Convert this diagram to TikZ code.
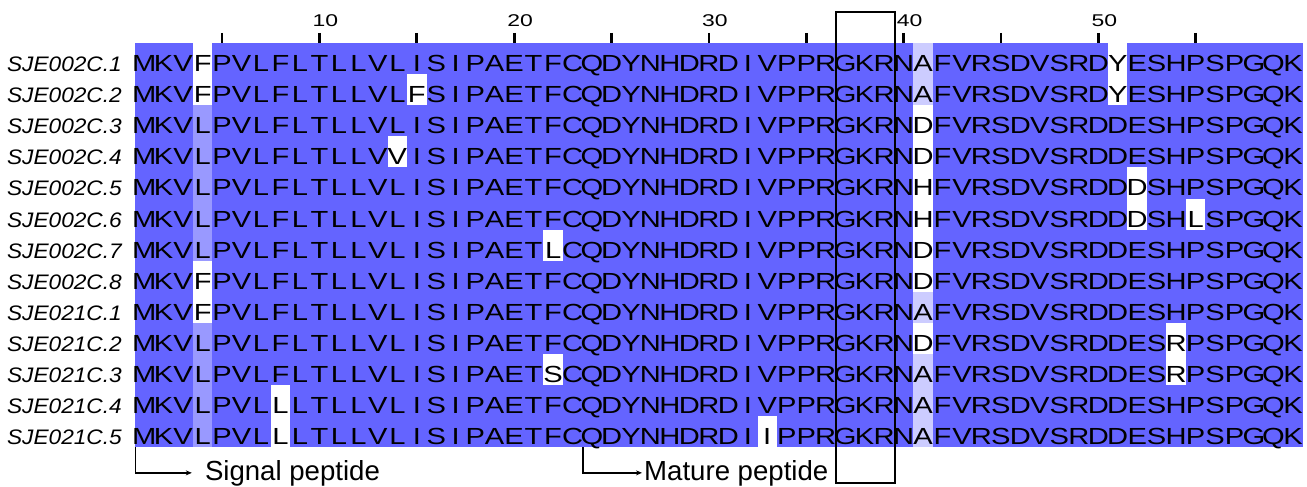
\documentclass[tikz,border=0pt]{standalone}
\usepackage{fontspec}
\setmainfont{Liberation Sans}
\newfontfamily\resfont[FakeStretch=1.25]{Liberation Sans}
\newfontfamily\namefont[FakeStretch=1.08]{Liberation Sans}
\newfontfamily\numfont[FakeStretch=1.35]{Liberation Sans}
\usetikzlibrary{arrows.meta}

\definecolor{idhigh}{RGB}{100,100,255}
\definecolor{idmid}{RGB}{153,153,255}
\definecolor{idlow}{RGB}{204,204,255}

% one alignment cell: column, row, colour
\newcommand\cellfill[3]{\fill[#3] ({134.5+(#1-1)*19.47},{43+(#2-1)*31.1}) rectangle ++(19.47,31.1);}

% one row of residues, one node per letter
\makeatletter
\newcount\rescol
\newcommand\seqrow[2]{\rescol=0 \edef\resrow{#1}\expandafter\seqrow@#2\@nil}
\def\seqrow@#1{%
  \ifx#1\@nil\else
    \advance\rescol by 1
    \node[res] (r\resrow-\the\rescol) at ({134.5+(\the\rescol-0.5)*19.47},{43+(\resrow-1)*31.1+28.5}) {#1};%
    \expandafter\seqrow@
  \fi}
\makeatother

\tikzset{
  res/.style={font=\resfont\fontsize{23.3}{28}\selectfont, anchor=base, inner sep=0pt},
  seqname/.style={font=\namefont\itshape\fontsize{21}{25}\selectfont, anchor=base east, inner sep=0pt},
  num/.style={font=\numfont\fontsize{17}{20}\selectfont, anchor=base, inner sep=0pt},
  note/.style={font=\fontsize{27.6}{32}\selectfont, anchor=base west, inner xsep=2pt, inner ysep=0pt},
  tick/.style={line width=2.7pt},
  pointer/.style={line width=1.4pt, -{Stealth[length=6pt,width=5pt]}}
}

\begin{document}
\begin{tikzpicture}[x=1pt, y=-1pt]
    \useasboundingbox (0,0) rectangle (1307,487);

    % Fondo de identidad
    \fill[idhigh] (134.5,43) rectangle (1302.7,447.3);
    \foreach \c/\r in {4/3,4/4,4/5,4/6,4/7,4/10,4/11,4/12,4/13} {\cellfill{\c}{\r}{idmid}}
    \foreach \c/\r in {41/1,41/2,41/9,41/11,41/12,41/13} {\cellfill{\c}{\r}{idlow}}
    \foreach \c/\r in {4/1,4/2,4/8,4/9,15/2,14/4,8/12,8/13,22/7,22/11,33/13,
                       41/3,41/4,41/5,41/6,41/7,41/8,41/10,51/1,51/2,52/5,52/6,
                       55/6,54/10,54/11} {\cellfill{\c}{\r}{white}}

    % Regla de posiciones
    \foreach \k in {5,10,...,55}
        \draw[tick] ({134.5+(\k-0.5)*19.47},33) -- ({134.5+(\k-0.5)*19.47},43);
    \foreach \k in {10,20,...,50}
        \node[num] (pos\k) at ({134.5+(\k-0.5)*19.47+6},27) {\k};

    % Nombres de las secuencias
    \foreach \r/\n in {1/SJE002C.1,2/SJE002C.2,3/SJE002C.3,4/SJE002C.4,5/SJE002C.5,
                       6/SJE002C.6,7/SJE002C.7,8/SJE002C.8,9/SJE021C.1,10/SJE021C.2,
                       11/SJE021C.3,12/SJE021C.4,13/SJE021C.5}
        \node[seqname] (name\r) at (122,{43+(\r-1)*31.1+28.5}) {\n};

    % Residuos
    \foreach \r/\s in {
        1/MKVFPVLFLTLLVLISIPAETFCQDYNHDRDIVPPRGKRNAFVRSDVSRDYESHPSPGQK,
        2/MKVFPVLFLTLLVLFSIPAETFCQDYNHDRDIVPPRGKRNAFVRSDVSRDYESHPSPGQK,
        3/MKVLPVLFLTLLVLISIPAETFCQDYNHDRDIVPPRGKRNDFVRSDVSRDDESHPSPGQK,
        4/MKVLPVLFLTLLVVISIPAETFCQDYNHDRDIVPPRGKRNDFVRSDVSRDDESHPSPGQK,
        5/MKVLPVLFLTLLVLISIPAETFCQDYNHDRDIVPPRGKRNHFVRSDVSRDDDSHPSPGQK,
        6/MKVLPVLFLTLLVLISIPAETFCQDYNHDRDIVPPRGKRNHFVRSDVSRDDDSHLSPGQK,
        7/MKVLPVLFLTLLVLISIPAETLCQDYNHDRDIVPPRGKRNDFVRSDVSRDDESHPSPGQK,
        8/MKVFPVLFLTLLVLISIPAETFCQDYNHDRDIVPPRGKRNDFVRSDVSRDDESHPSPGQK,
        9/MKVFPVLFLTLLVLISIPAETFCQDYNHDRDIVPPRGKRNAFVRSDVSRDDESHPSPGQK,
        10/MKVLPVLFLTLLVLISIPAETFCQDYNHDRDIVPPRGKRNDFVRSDVSRDDESRPSPGQK,
        11/MKVLPVLFLTLLVLISIPAETSCQDYNHDRDIVPPRGKRNAFVRSDVSRDDESRPSPGQK,
        12/MKVLPVLLLTLLVLISIPAETFCQDYNHDRDIVPPRGKRNAFVRSDVSRDDESHPSPGQK,
        13/MKVLPVLLLTLLVLISIPAETFCQDYNHDRDIIPPRGKRNAFVRSDVSRDDESHPSPGQK}
        {\seqrow{\r}{\s}}

    % Sitio de corte GKR
    \draw[line width=2.6pt] (836,12) rectangle (895,483);

    % Regiones
    \coordinate (sigtail) at (135.7,447.3);
    \coordinate (mattail) at (583,447.3);
    \node[note] (sig) at (202.8,480) {Signal peptide};
    \node[note] (mat) at (642,480) {Mature peptide};
    \draw[pointer, shorten >=11pt] (sigtail) |- (sig.west);
    \draw[pointer] (mattail) |- (mat.west);
\end{tikzpicture}
\end{document}
